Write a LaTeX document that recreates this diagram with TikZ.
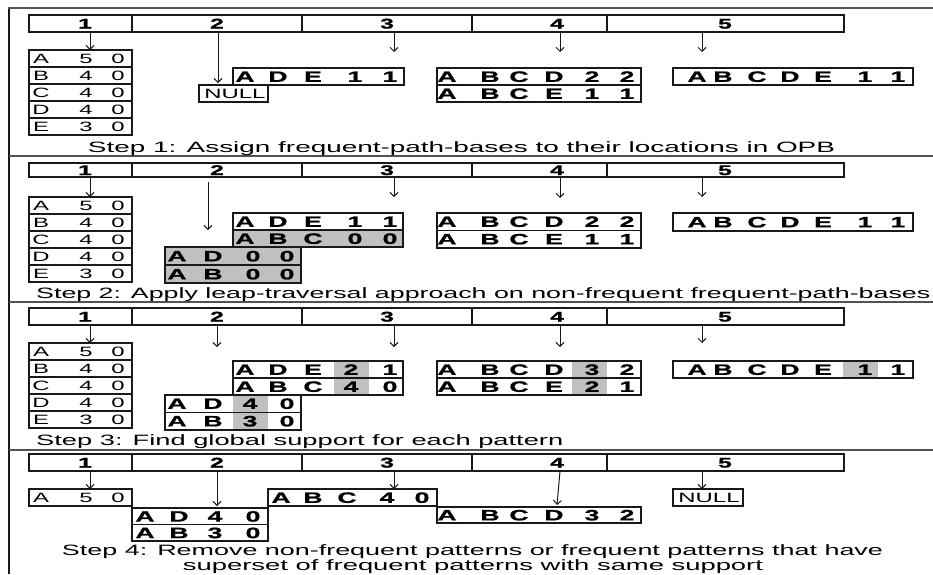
\documentclass[tikz,border=0pt]{standalone}
\usepackage{fontspec}
\usepackage{graphicx}
\usetikzlibrary{arrows.meta}
\newfontfamily\wf[FakeStretch=1.77, BoldFeatures={FakeBold=1.2}]{Liberation Sans}
\newfontfamily\stepfont{Liberation Sans}
\definecolor{cg}{RGB}{192,192,192}
\definecolor{ln}{RGB}{25,25,25}
\newcounter{gc}
\tikzset{
  box/.style={draw=ln, line width=1.4pt},
  sepl/.style={draw=ln!75, line width=1.4pt},
  arr/.style={draw=ln, line width=1pt, -{Straight Barb[length=4pt,width=8pt]}},
  gl/.style={inner sep=0pt, text height=9.7pt, text depth=0pt, font=\wf\fontsize{13.5}{15}\selectfont},
  glb/.style={inner sep=0pt, text height=10.7pt, text depth=0pt, font=\wf\bfseries\fontsize{15}{17}\selectfont},
  lab/.style={inner sep=0pt, text height=10pt, text depth=0pt, font=\wf\bfseries\fontsize{14}{16}\selectfont},
  stp/.style={inner sep=0pt, font=\stepfont\fontsize{15}{18}\selectfont},
}
\newcommand\Rw[3]{\foreach \px/\ch in {#3}{\stepcounter{gc}\node[#1] (g\arabic{gc}) at (\px,#2) {\ch};}}
\newcommand\Arr[5]{\coordinate (#1s) at (#2,#3); \coordinate (#1e) at (#4,#5); \draw[arr] (#1s) -- (#1e);}
\newcommand\Bar[2]{%
  \draw[box] (29,#1) rectangle (844,{#1+#2});
  \foreach \px in {132,302,472,607} \draw[box] (\px,#1) -- (\px,{#1+#2});
  \Rw{lab}{#1+#2/2}{85/1,217/2,387/3,557/4,725/5}}
\newcommand\TabOne[2]{%
  \draw[box] (29,#1) rectangle (132,{#1+5*#2});
  \foreach \i in {1,...,4} \draw[box] (29,{#1+#2*\i}) -- (132,{#1+#2*\i});
  \foreach \l/\n [count=\i from 0] in {A/5,B/4,C/4,D/4,E/3}{%
    \Rw{gl}{#1+#2/2+#2*\i}{41/\l,86/\n,118/0}}}
\newcommand\Wide[2]{\resizebox{#1pt}{\height}{#2}}
\begin{document}
\begin{tikzpicture}[x=1pt,y=-1pt]
\useasboundingbox (0,0) rectangle (933,574);
% frame
\draw[line width=2.2pt, ln] (9,574) -- (9,8);
\draw[sepl] (8,8) -- (933,8);
\draw[sepl] (9,156) -- (933,156);
\draw[sepl] (9,302) -- (933,302);
\draw[sepl] (9,450) -- (933,450);

% ================= Step 1
\Bar{15}{17}
\Arr{a11}{90}{32}{90}{50}
\Arr{a12}{218}{32}{218}{83}
\Arr{a13}{394}{32}{394}{52}
\Arr{a14}{560}{32}{560}{52}
\Arr{a15}{702}{32}{702}{52}
\TabOne{50}{17}
\draw[box] (199,85) rectangle (268,102);
\node[gl] (null1) at (235,93.5) {NULL};
\draw[box] (233,68) rectangle (404,85);
\Rw{glb}{76.5}{245/A,278/D,313/E,355/1,390/1}
\draw[box] (437,68) rectangle (641,102); \draw[box] (437,85) -- (641,85);
\Rw{glb}{76.5}{447/A,490/B,519/C,554/D,592/2,627/2}
\Rw{glb}{93.5}{447/A,490/B,519/C,554/E,592/1,627/1}
\draw[box] (673,68) rectangle (913,85);
\Rw{glb}{76.5}{697/A,723/B,757/C,790/D,823/E,865/1,898/1}
\node[stp, anchor=base] (s1) at (461.5,152) {\Wide{747}{Step 1: Assign frequent-path-bases to their locations in OPB}};

% ================= Step 2
\Bar{163}{14}
\Arr{a21}{90}{177}{90}{197}
\Arr{a22}{208}{182}{208}{230}
\Arr{a23}{394}{177}{394}{197}
\Arr{a24}{560}{177}{560}{198}
\Arr{a25}{702}{177}{702}{197}
\TabOne{197}{17}
\fill[cg] (233,230) rectangle (403,247);
\fill[cg] (165,247) rectangle (301,283);
\draw[box] (233,213) rectangle (403,247); \draw[box] (233,230) -- (403,230);
\Rw{glb}{221.5}{245/A,278/D,313/E,355/1,390/1}
\Rw{glb}{238.5}{245/A,278/B,313/C,355/0,390/0}
\draw[box] (165,247) rectangle (301,283); \draw[box] (165,265) -- (301,265);
\Rw{glb}{256}{177/A,213/D,253/0,287/0}
\Rw{glb}{274}{177/A,213/B,253/0,287/0}
\draw[box] (437,213) rectangle (641,248); \draw[box] (437,230.5) -- (641,230.5);
\Rw{glb}{221.5}{447/A,490/B,519/C,554/D,592/2,627/2}
\Rw{glb}{239}{447/A,490/B,519/C,554/E,592/1,627/1}
\draw[box] (673,213) rectangle (913,231);
\Rw{glb}{222}{697/A,723/B,757/C,790/D,823/E,865/1,898/1}
\node[stp, anchor=base west] (s2) at (36,298) {\Wide{894}{Step 2: Apply leap-traversal approach on non-frequent frequent-path-bases}};

% ================= Step 3
\Bar{308}{17}
\Arr{a31}{90}{325}{90}{343}
\Arr{a32}{217}{325}{217}{347}
\Arr{a33}{394}{325}{394}{347}
\Arr{a34}{560}{325}{560}{347}
\Arr{a35}{702}{325}{702}{343}
\TabOne{343}{17}
\fill[cg] (334,361) rectangle (369,395);
\fill[cg] (233,395) rectangle (268,430);
\fill[cg] (572,361) rectangle (607,395);
\fill[cg] (843,361) rectangle (878,378);
\draw[box] (233,361) rectangle (403,395); \draw[box] (233,378) -- (403,378);
\Rw{glb}{369.5}{245/A,278/D,313/E,351/2,390/1}
\Rw{glb}{386.5}{245/A,278/B,313/C,351/4,390/0}
\draw[box] (165,395) rectangle (301,430); \draw[box] (165,412.5) -- (301,412.5);
\Rw{glb}{403.5}{177/A,213/D,250/4,287/0}
\Rw{glb}{421}{177/A,213/B,250/3,287/0}
\draw[box] (437,361) rectangle (641,395); \draw[box] (437,378) -- (641,378);
\Rw{glb}{369.5}{447/A,490/B,519/C,554/D,592/3,627/2}
\Rw{glb}{386.5}{447/A,490/B,519/C,554/E,592/2,627/1}
\draw[box] (673,361) rectangle (913,378);
\Rw{glb}{369.5}{697/A,723/B,757/C,790/D,823/E,865/1,898/1}
\node[stp, anchor=base west] (s3) at (36,445) {\Wide{527}{Step 3: Find global support for each pattern}};

% ================= Step 4
\Bar{454}{17}
\Arr{a41}{90}{471}{90}{489}
\Arr{a42}{217}{471}{217}{506}
\Arr{a43}{394}{471}{394}{489}
\Arr{a44}{560}{471}{557}{505}
\Arr{a45}{702}{471}{702}{489}
\draw[box] (29,489) rectangle (132,506);
\Rw{gl}{497.5}{41/A,86/5,118/0}
\draw[box] (132,508) rectangle (268,541); \draw[box] (132,524.5) -- (268,524.5);
\Rw{glb}{516.25}{145/A,179/D,215/4,253/0}
\Rw{glb}{532.75}{145/A,179/B,215/3,253/0}
\draw[box] (268,489) rectangle (437,506);
\Rw{glb}{497.5}{281/A,313/B,347/C,387/4,422/0}
\draw[box] (437,507) rectangle (641,523);
\Rw{glb}{515}{447/A,490/B,519/C,554/D,592/3,627/2}
\draw[box] (673,489) rectangle (743,506);
\node[gl] (null4) at (709,497.5) {NULL};
\node[stp, anchor=base] (s4a) at (472.5,555.5) {\Wide{821}{Step 4: Remove non-frequent patterns or frequent patterns that have}};
\node[stp, anchor=base] (s4b) at (473,570.5) {\Wide{580}{superset of frequent patterns with same support}};
\end{tikzpicture}
\end{document}
